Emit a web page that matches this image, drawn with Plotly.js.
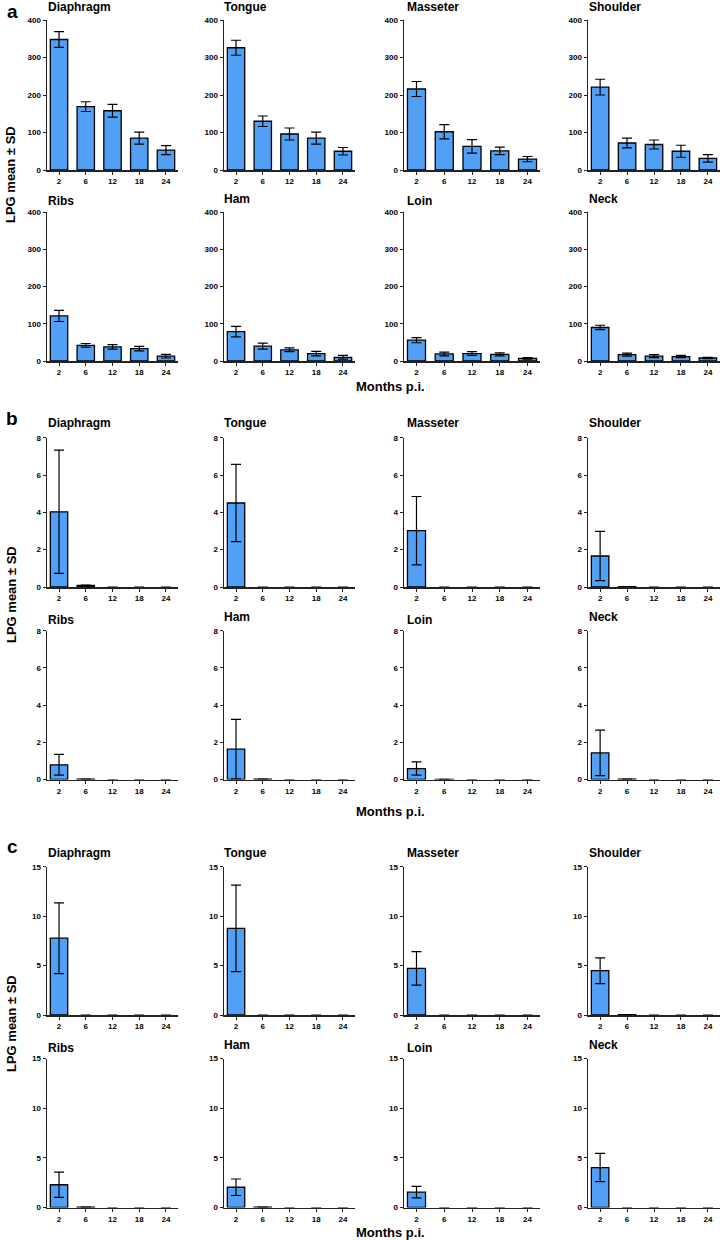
<!DOCTYPE html>
<html><head><meta charset="utf-8">
<script src="https://cdn.plot.ly/plotly-3.0.1.min.js"></script>
<style>html,body{margin:0;padding:0;background:#fff}</style>
</head><body><div id="chart" style="width:725px;height:1240px"></div>
<script>
// ---- data ----
const months = ["2", "6", "12", "18", "24"];
const tissues = ["Diaphragm", "Tongue", "Masseter", "Shoulder", "Ribs", "Ham", "Loin", "Neck"];

// panel a (order follows tissues)
const meanA = [
  [348, 169, 158, 85, 53],
  [326, 130, 96, 85, 50],
  [216, 102, 63, 51, 29],
  [221, 72, 68, 50, 31],
  [121, 42, 38, 33, 13],
  [79, 40, 30, 20, 10],
  [56, 19, 20, 18, 7],
  [90, 17, 13, 12, 8]
];
const sdA = [
  [21, 13, 17, 16, 12],
  [20, 14, 16, 16, 10],
  [20, 19, 18, 10, 7],
  [21, 13, 12, 16, 10],
  [15, 5, 6, 6, 5],
  [14, 8, 5, 6, 5],
  [7, 5, 5, 4, 2],
  [6, 4, 4, 3, 2]
];
// panel b
const meanB = [
  [4.03, 0.08, 0, 0, 0],
  [4.5, 0, 0, 0, 0],
  [3.02, 0, 0, 0, 0],
  [1.66, 0.02, 0, 0, 0],
  [0.79, 0.02, 0, 0, 0],
  [1.63, 0.02, 0, 0, 0],
  [0.59, 0.01, 0, 0, 0],
  [1.43, 0.02, 0, 0, 0]
];
const sdB = [
  [3.3, 0.02, 0, 0, 0],
  [2.07, 0, 0, 0, 0],
  [1.83, 0, 0, 0, 0],
  [1.32, 0, 0, 0, 0],
  [0.56, 0, 0, 0, 0],
  [1.6, 0, 0, 0, 0],
  [0.36, 0, 0, 0, 0],
  [1.22, 0, 0, 0, 0]
];
// panel c
const meanC = [
  [7.77, 0, 0, 0, 0],
  [8.76, 0, 0, 0, 0],
  [4.72, 0, 0, 0, 0],
  [4.48, 0.03, 0, 0, 0],
  [2.29, 0.03, 0, 0, 0],
  [2.04, 0.03, 0, 0, 0],
  [1.54, 0, 0, 0, 0],
  [4.02, 0, 0, 0, 0]
];
const sdC = [
  [3.58, 0, 0, 0, 0],
  [4.37, 0, 0, 0, 0],
  [1.7, 0, 0, 0, 0],
  [1.3, 0, 0, 0, 0],
  [1.27, 0, 0, 0, 0],
  [0.83, 0, 0, 0, 0],
  [0.58, 0, 0, 0, 0],
  [1.42, 0, 0, 0, 0]
];
const yTitle = "LPG mean ± SD";
const xTitle = "Months p.i.";

// ---- layout ----
const W = 725, H = 1240;
const FONT = "Liberation Sans, Arial, sans-serif";
const BAR = "#52a0f6";
const AX = "#222";
const cols = [[47, 178], [224, 355], [404, 540], [588, 720]];
const titleX = [46, 222, 405, 587];
const row2TitleOff = [0, -3, 0, -3];
const panels = [
  {letter: "a", mean: meanA, sd: sdA, range: [0, 400], dtick: 100, rows: [[20, 170], [212, 361]], titleY: [7, 201.5], letterTop: -2, xlabY: 386, ylabY: 175},
  {letter: "b", mean: meanB, sd: sdB, range: [0, 8], dtick: 2, rows: [[437.7, 587], [630.7, 779.5]], titleY: [423, 620], letterTop: 407, xlabY: 811.5, ylabY: 595},
  {letter: "c", mean: meanC, sd: sdC, range: [0, 15], dtick: 5, rows: [[866.7, 1015], [1058.5, 1207.5]], titleY: [852.7, 1048], letterTop: 835, xlabY: 1232.5, ylabY: 1024}
];

const px = x => x / W;
const py = y => 1 - y / H;
const traces = [];
const layout = {
  width: W, height: H,
  margin: {l: 0, r: 0, t: 0, b: 0},
  paper_bgcolor: "#fff", plot_bgcolor: "#fff",
  showlegend: false,
  font: {family: FONT, color: "#000"},
  annotations: []
};
let n = 0;
panels.forEach(p => {
  p.rows.forEach((rw, r) => {
    cols.forEach((cl, c) => {
      n += 1;
      const idx = r * 4 + c;
      const xk = n === 1 ? "xaxis" : "xaxis" + n;
      const yk = n === 1 ? "yaxis" : "yaxis" + n;
      const xr = n === 1 ? "x" : "x" + n;
      const yr = n === 1 ? "y" : "y" + n;
      const vals = p.mean[idx];
      traces.push({
        type: "bar", x: months, y: vals, xaxis: xr, yaxis: yr,
        width: 0.65,
        marker: {color: BAR, line: {color: "#000", width: vals.map(v => v > 0 ? 1.3 : 0)}},
        error_y: {type: "data", array: p.sd[idx], visible: true, color: "#000", thickness: 1.2, width: 5},
        hoverinfo: "skip"
      });
      layout[xk] = {
        domain: [px(cl[0]), px(cl[1])], anchor: yr,
        type: "category", categoryorder: "array", categoryarray: months,
        range: [-0.45, 4.45],
        showline: true, linecolor: AX, linewidth: 1.5,
        ticks: "outside", ticklen: 3, tickwidth: 1, tickcolor: AX,
        tickfont: {family: FONT, size: 8, weight: "bold", color: "#000"},
        showgrid: false, zeroline: false, fixedrange: true
      };
      layout[yk] = {
        domain: [py(rw[1]), py(rw[0])], anchor: xr,
        range: p.range, dtick: p.dtick, tick0: 0,
        showline: true, linecolor: AX, linewidth: 1.5,
        ticks: "outside", ticklen: 3, tickwidth: 1, tickcolor: AX,
        tickfont: {family: FONT, size: 8, weight: "bold", color: "#000"},
        showgrid: false, zeroline: false, fixedrange: true
      };
      layout.annotations.push({
        xref: "paper", yref: "paper",
        x: px(titleX[c]), y: py(p.titleY[r] + (r === 1 ? row2TitleOff[c] : 0)),
        xanchor: "left", yanchor: "middle", showarrow: false,
        text: tissues[idx],
        font: {family: FONT, size: 12, weight: "bold", color: "#000"}
      });
    });
  });
  layout.annotations.push({
    xref: "paper", yref: "paper", x: px(12), y: py(Math.max(p.letterTop, 0)),
    xanchor: "center", yanchor: "top", showarrow: false, borderpad: 0,
    text: p.letter, font: {family: FONT, size: 19, weight: "bold", color: "#000"}
  });
  layout.annotations.push({
    xref: "paper", yref: "paper", x: px(390), y: py(p.xlabY),
    xanchor: "center", yanchor: "middle", showarrow: false,
    text: xTitle, font: {family: FONT, size: 13, weight: "bold", color: "#000"}
  });
  layout.annotations.push({
    xref: "paper", yref: "paper", x: px(11), y: py(p.ylabY),
    xanchor: "center", yanchor: "middle", showarrow: false, textangle: -90,
    text: yTitle, font: {family: FONT, size: 13, weight: "bold", color: "#000"}
  });
});

Plotly.newPlot("chart", traces, layout, {staticPlot: true, displayModeBar: false});
</script>
</body></html>
